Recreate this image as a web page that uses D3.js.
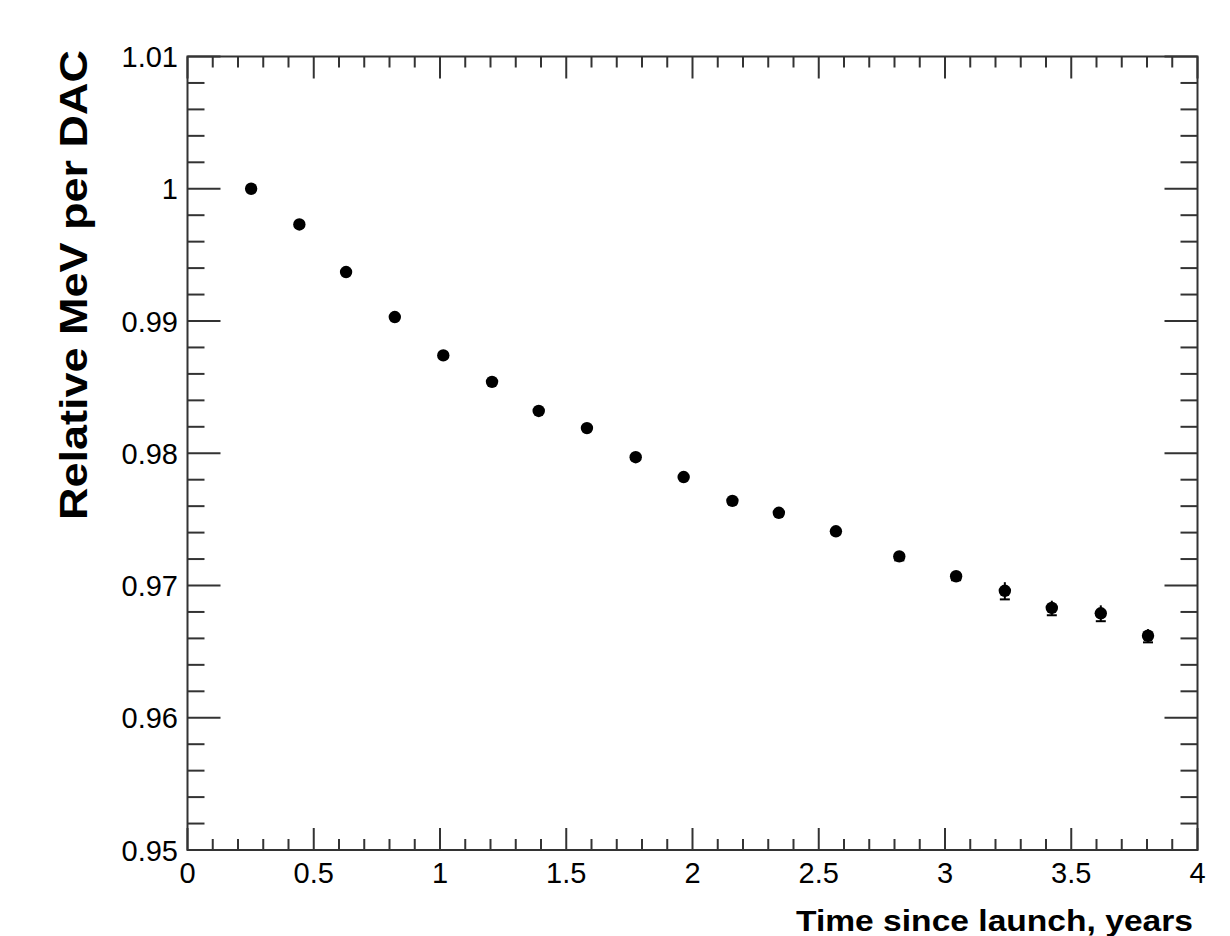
<!DOCTYPE html>
<html>
<head>
	<title>Relative MeV per DAC</title>
	<script src="https://cdnjs.cloudflare.com/ajax/libs/d3/7.8.5/d3.min.js"></script>
	<style type="text/css">
	html, body{
		margin:0;
		background:#fff;
	}
	svg text{
		font-family: "Liberation Sans", Arial, sans-serif;
		fill:#000;
	}
	</style>
</head>
<body>
<svg id="chart" width="1230" height="936"></svg>
<script type="text/javascript">
// time since launch (years) and relative MeV/DAC
var years = [0.252, 0.443, 0.628, 0.821, 1.013, 1.206, 1.391, 1.582, 1.775, 1.965,
             2.158, 2.342, 2.568, 2.819, 3.044, 3.237, 3.423, 3.617, 3.804];
var ratio = [1.0000, 0.9973, 0.9937, 0.9903, 0.9874, 0.9854, 0.9832, 0.9819, 0.9797, 0.9782,
             0.9764, 0.9755, 0.9741, 0.9722, 0.9707, 0.9696, 0.9683, 0.9679, 0.9662];
var errs  = [0.0001, 0.0001, 0.0001, 0.0001, 0.0001, 0.0001, 0.0001, 0.0001, 0.0001, 0.0001,
             0.0002, 0.0002, 0.0002, 0.0003, 0.0003, 0.00065, 0.00055, 0.0006, 0.0005];

var xTicks = [0, 0.5, 1, 1.5, 2, 2.5, 3, 3.5, 4];
var yTicks = [0.95, 0.96, 0.97, 0.98, 0.99, 1, 1.01];
var xTitle = "Time since launch, years";
var yTitle = "Relative MeV per DAC";

var padL = 187.5, padR = 1197.5, padT = 56.5, padB = 850;

var x = d3.scaleLinear().domain([0, 4]).range([padL, padR]);
var y = d3.scaleLinear().domain([0.95, 1.01]).range([padB, padT]);

var svg = d3.select("#chart");
var axisColor = "#333";

/* minor / major tick positions */
var xMinor = d3.range(0, 41).map(function(i){ return i / 10; });
var yMinor = d3.range(0, 31).map(function(i){ return 0.95 + i * 0.002; });
function isMajorX(v){ return Math.abs(v * 2 - Math.round(v * 2)) < 1e-6; }
function isMajorY(v){ return Math.abs(v * 100 - Math.round(v * 100)) < 1e-6; }

var ticks = svg.append("g").attr("stroke", axisColor).attr("stroke-width", 2);

// bottom & top ticks
xMinor.forEach(function(v){
	var len = isMajorX(v) ? 22 : 11;
	ticks.append("line").attr("x1", x(v)).attr("x2", x(v)).attr("y1", padB).attr("y2", padB - len);
	ticks.append("line").attr("x1", x(v)).attr("x2", x(v)).attr("y1", padT).attr("y2", padT + len);
});
// left & right ticks
yMinor.forEach(function(v){
	var len = isMajorY(v) ? 33 : 17;
	ticks.append("line").attr("x1", padL).attr("x2", padL + len).attr("y1", y(v)).attr("y2", y(v));
	ticks.append("line").attr("x1", padR).attr("x2", padR - len).attr("y1", y(v)).attr("y2", y(v));
});

// frame
svg.append("rect")
	.attr("x", padL).attr("y", padT)
	.attr("width", padR - padL).attr("height", padB - padT)
	.attr("fill", "none").attr("stroke", axisColor).attr("stroke-width", 2);

// tick labels
svg.append("g").selectAll("text").data(xTicks).enter().append("text")
	.attr("x", function(d){ return x(d); })
	.attr("y", 883)
	.attr("text-anchor", "middle")
	.attr("font-size", 29)
	.text(function(d){ return d3.format("~g")(d); });

svg.append("g").selectAll("text").data(yTicks).enter().append("text")
	.attr("x", 178)
	.attr("y", function(d){ return y(d) + 10.5; })
	.attr("text-anchor", "end")
	.attr("font-size", 29)
	.text(function(d){ return d3.format("~g")(d); });

// axis titles
svg.append("text")
	.attr("x", 1193).attr("y", 931)
	.attr("text-anchor", "end")
	.attr("font-size", 30)
	.attr("font-weight", "bold")
	.attr("textLength", 397).attr("lengthAdjust", "spacingAndGlyphs")
	.text(xTitle);

svg.append("text")
	.attr("transform", "translate(87,50) rotate(-90)")
	.attr("text-anchor", "end")
	.attr("font-size", 39)
	.attr("font-weight", "bold")
	.attr("textLength", 470).attr("lengthAdjust", "spacingAndGlyphs")
	.text(yTitle);

// data: error bars + markers
var pts = years.map(function(t, i){ return {t: t, v: ratio[i], e: errs[i]}; });
var g = svg.append("g");

g.selectAll("line.err").data(pts).enter().append("line")
	.attr("class", "err")
	.attr("x1", function(d){ return x(d.t); }).attr("x2", function(d){ return x(d.t); })
	.attr("y1", function(d){ return y(d.v + d.e); }).attr("y2", function(d){ return y(d.v - d.e); })
	.attr("stroke", "#000").attr("stroke-width", 2);

g.selectAll("line.cap").data(pts).enter().append("line")
	.attr("class", "cap")
	.attr("x1", function(d){ return x(d.t) - 5; }).attr("x2", function(d){ return x(d.t) + 5; })
	.attr("y1", function(d){ return y(d.v - d.e); }).attr("y2", function(d){ return y(d.v - d.e); })
	.attr("stroke", "#000").attr("stroke-width", 2);

g.selectAll("circle").data(pts).enter().append("circle")
	.attr("cx", function(d){ return x(d.t); })
	.attr("cy", function(d){ return y(d.v); })
	.attr("r", 6.2)
	.attr("fill", "#000");
</script>
</body>
</html>
